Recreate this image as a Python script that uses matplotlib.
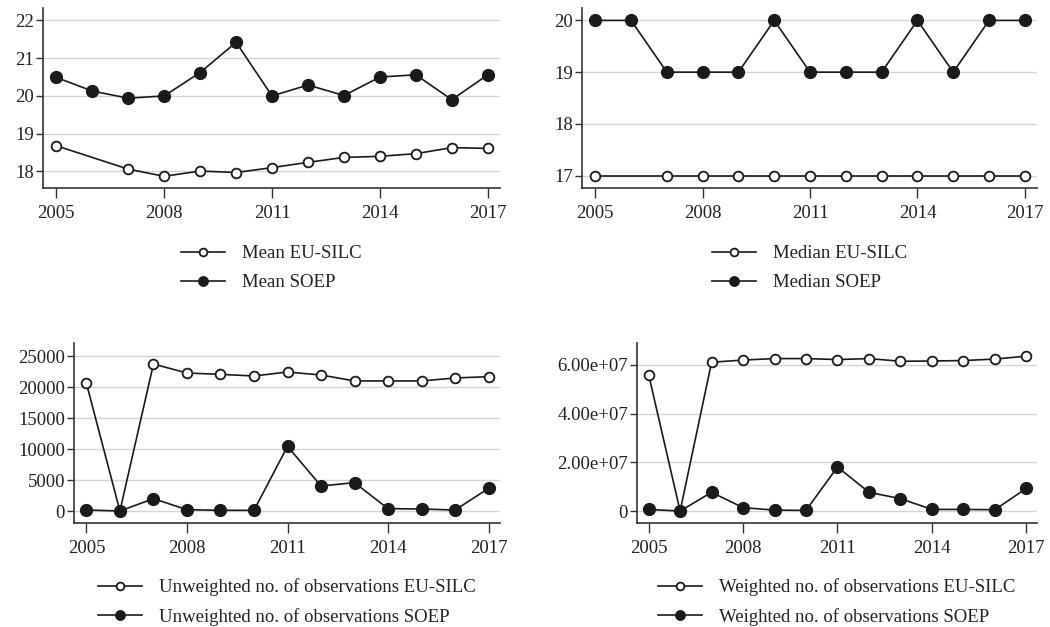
"""Four-panel comparison of EU-SILC vs SOEP (mean, median, unweighted and
weighted number of observations), Stata-like mono style."""

import numpy as np
import matplotlib

matplotlib.use("Agg")
import matplotlib.pyplot as plt
from matplotlib.ticker import FuncFormatter

plt.rcParams["font.family"] = ["Liberation Serif", "DejaVu Serif"]

years = np.arange(2005, 2018)

mean_eusilc = [18.68, np.nan, 18.06, 17.87, 18.01, 17.97, 18.10, 18.24,
               18.37, 18.40, 18.47, 18.63, 18.61]
mean_soep = [20.49, 20.13, 19.94, 20.00, 20.62, 21.42, 20.00, 20.29,
             20.01, 20.50, 20.56, 19.90, 20.56]

median_eusilc = [17, np.nan, 17, 17, 17, 17, 17, 17, 17, 17, 17, 17, 17]
median_soep = [20, 20, 19, 19, 19, 20, 19, 19, 19, 20, 19, 20, 20]

unw_eusilc = [20600, 0, 23710, 22260, 22040, 21780, 22420, 21940,
              20980, 20980, 20980, 21460, 21670]
unw_soep = [160, 0, 1990, 215, 110, 110, 10430, 4035, 4573, 377, 323,
            160, 3660]

w_eusilc = [5.60e7, 0, 6.11e7, 6.20e7, 6.26e7, 6.26e7, 6.22e7, 6.26e7,
            6.15e7, 6.16e7, 6.18e7, 6.24e7, 6.36e7]
w_soep = [6.8e5, 0, 7.7e6, 1.4e6, 4.0e5, 2.7e5, 1.81e7, 7.7e6, 5.1e6,
          6.8e5, 6.8e5, 5.5e5, 9.3e6]

labels = [("Mean EU-SILC", "Mean SOEP"),
          ("Median EU-SILC", "Median SOEP"),
          ("Unweighted no. of observations EU-SILC",
           "Unweighted no. of observations SOEP"),
          ("Weighted no. of observations EU-SILC",
           "Weighted no. of observations SOEP")]

xticks = [2005, 2008, 2011, 2014, 2017]
yticks = [[18, 19, 20, 21, 22],
          [17, 18, 19, 20],
          [0, 5000, 10000, 15000, 20000, 25000],
          [0, 2e7, 4e7, 6e7]]
ylims = [(17.56, 22.33), (16.76, 20.24), (-1935, 27100), (-4.9e6, 6.9e7)]

W, H = 1050, 627
# axes boxes in pixels: left, right, top, bottom
boxes = [(43, 500, 8, 188), (582, 1037, 8, 188),
         (74, 500, 343, 523), (637, 1037, 343, 523)]
legend_y = [236, 236, 569, 569]

LINE = "#1a1a1a"
TXT = "#222222"
FS = 13.5

fig = plt.figure(figsize=(W / 100, H / 100), dpi=100)

series = [(mean_eusilc, mean_soep), (median_eusilc, median_soep),
          (unw_eusilc, unw_soep), (w_eusilc, w_soep)]


def sci_fmt(v, pos):
    return "0" if v == 0 else f"{v:.2e}"


for i, ((eu, so), (l_eu, l_so), box) in enumerate(zip(series, labels, boxes)):
    l, r, t, b = box
    ax = fig.add_axes([l / W, 1 - b / H, (r - l) / W, (b - t) / H])
    eu = np.asarray(eu, dtype=float)
    so = np.asarray(so, dtype=float)
    m_eu = ~np.isnan(eu)
    ax.plot(years[m_eu], eu[m_eu], color=LINE, lw=1.2, marker="o", ms=7,
            mfc="white", mec=LINE, mew=1.3, label=l_eu, zorder=3)
    ax.plot(years, so, color=LINE, lw=1.2, marker="o", ms=8.5,
            mfc=LINE, mec=LINE, label=l_so, zorder=3)

    ax.set_xlim(2004.63, 2017.34)
    ax.set_ylim(*ylims[i])
    ax.set_xticks(xticks)
    ax.set_yticks(yticks[i])
    if i == 3:
        ax.yaxis.set_major_formatter(FuncFormatter(sci_fmt))
    ax.grid(axis="y", color="#d4d4d4", lw=1.0, zorder=0)
    ax.set_axisbelow(True)
    for s in ("top", "right"):
        ax.spines[s].set_visible(False)
    for s in ("left", "bottom"):
        ax.spines[s].set_color("#333333")
        ax.spines[s].set_linewidth(1.2)
    ax.tick_params(axis="both", colors="#333333", labelcolor=TXT,
                   labelsize=FS, width=1.0)
    ax.tick_params(axis="x", length=7, pad=5.5)
    ax.tick_params(axis="y", length=5, pad=1.5)

    cx = (l + r) / 2 / W
    ax.legend(loc="upper center", bbox_to_anchor=(cx, 1 - legend_y[i] / H),
              bbox_transform=fig.transFigure, frameon=False, ncol=1,
              fontsize=FS, handlelength=2.35, handletextpad=0.9,
              labelspacing=0.62, markerscale=0.8, borderpad=0,
              labelcolor=TXT)

fig.savefig("out.png", dpi=100)
